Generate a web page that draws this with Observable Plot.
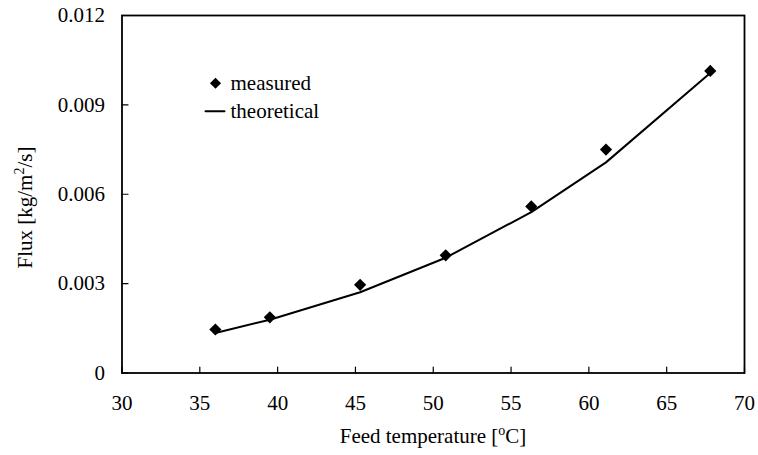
<!DOCTYPE html>
<html>
<head>
<meta charset="utf-8">
<script src="https://cdn.jsdelivr.net/npm/d3@7"></script>
<script src="https://cdn.jsdelivr.net/npm/@observablehq/plot@0.6"></script>
<style>
  html, body { margin: 0; padding: 0; background: #fff; }
  #chart { width: 758px; height: 455px; }
</style>
</head>
<body>
<div id="chart"></div>
<script>
// ---- data ----
const temperature = [36.0, 39.5, 45.3, 50.8, 56.3, 61.1, 67.8];
const measuredFlux = [0.00146, 0.00187, 0.00296, 0.00395, 0.00559, 0.00750, 0.01014];
const theoreticalFlux = [0.00134, 0.00179, 0.00271, 0.00387, 0.00540, 0.00707, 0.01007];
const xTicks = [30, 35, 40, 45, 50, 55, 60, 65, 70];
const yTicks = [0, 0.003, 0.006, 0.009, 0.012];
const legendLabels = ["measured", "theoretical"];

const measured = temperature.map((t, i) => ({t, flux: measuredFlux[i]}));
const theoretical = temperature.map((t, i) => ({t, flux: theoreticalFlux[i]}));

const tickShape = {
  draw(context, l) { context.moveTo(0, 0); context.lineTo(0, -l); }
};

const font = "Liberation Serif, Times New Roman, serif";
const FS = 21;

const chart = Plot.plot({
  width: 758,
  height: 455,
  marginLeft: 121.5,
  marginRight: 14,
  marginTop: 15,
  marginBottom: 82.5,
  style: {fontFamily: font, fontSize: FS + "px", color: "black", background: "white"},
  x: {domain: [30, 70]},
  y: {domain: [0, 0.012]},
  marks: [
    Plot.line(theoretical, {x: "t", y: "flux", stroke: "black", strokeWidth: 2}),
    Plot.dot(measured, {x: "t", y: "flux", symbol: "diamond2", fill: "black", stroke: "none", r: 5.5}),
    // inward ticks
    Plot.vector(xTicks, {x: d => d, y: 0, length: 6, rotate: 0, anchor: "start", shape: tickShape, stroke: "black", strokeWidth: 1.2}),
    Plot.vector(yTicks, {x: 30, y: d => d, length: 6, rotate: 90, anchor: "start", shape: tickShape, stroke: "black", strokeWidth: 1.2}),
    Plot.axisX({ticks: xTicks, tickSize: 0, tickPadding: 22, label: null, fontSize: FS}),
    Plot.axisY({ticks: yTicks, tickSize: 0, tickPadding: 17, label: null, fontSize: FS,
      tickFormat: d => d === 0 ? "0" : d.toFixed(3)}),
    Plot.frame({stroke: "black", strokeWidth: 1.8}),
    // legend
    Plot.dot([legendLabels[0]], {frameAnchor: "top-left", dx: 93.5, dy: 67.7, symbol: "diamond2", fill: "black", r: 5}),
    Plot.vector([legendLabels[1]], {frameAnchor: "top-left", dx: 83.5, dy: 95.7, length: 19, rotate: 90, anchor: "start", shape: tickShape, stroke: "black", strokeWidth: 2}),
    Plot.text([legendLabels[0]], {frameAnchor: "top-left", dx: 108.5, dy: 67.7, text: d => d, textAnchor: "start", lineAnchor: "middle", fontSize: FS, fill: "black"}),
    Plot.text([legendLabels[1]], {frameAnchor: "top-left", dx: 108.5, dy: 95.7, text: d => d, textAnchor: "start", lineAnchor: "middle", fontSize: FS, fill: "black"})
  ]
});

document.getElementById("chart").appendChild(chart);

const svg = d3.select(chart);
// force font on every text produced by Plot
svg.selectAll("text").attr("font-size", FS).attr("font-family", font).attr("fill", "black");

// x-axis label with superscript
const xl = svg.append("text")
  .attr("x", 433).attr("y", 443)
  .attr("text-anchor", "middle")
  .attr("font-family", font).attr("font-size", FS).attr("fill", "black");
xl.append("tspan").text("Feed temperature [");
xl.append("tspan").attr("font-size", 14).attr("dy", -8).text("o");
xl.append("tspan").attr("dy", 8).text("C]");

// y-axis label with superscript
const yl = svg.append("text")
  .attr("transform", "translate(32,207.5) rotate(-90)")
  .attr("text-anchor", "middle")
  .attr("font-family", font).attr("font-size", FS).attr("fill", "black");
yl.append("tspan").text("Flux [kg/m");
yl.append("tspan").attr("font-size", 14).attr("dy", -8).text("2");
yl.append("tspan").attr("dy", 8).text("/s]");
</script>
</body>
</html>
